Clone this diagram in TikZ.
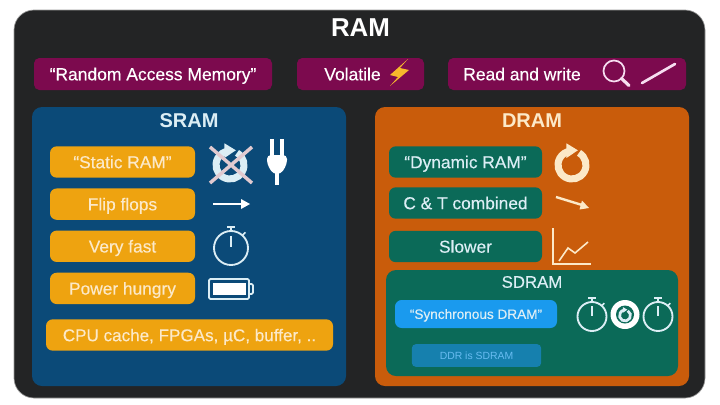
\documentclass[tikz,border=0pt]{standalone}
\usepackage{fontspec}
\setmainfont{Liberation Sans}
\newfontfamily\medfont[FakeBold=0.35]{Liberation Sans}
\usetikzlibrary{positioning}

\definecolor{shell}{HTML}{232425}
\definecolor{berry}{HTML}{7C0A4E}
\definecolor{navy}{HTML}{0B4A78}
\definecolor{rust}{HTML}{C95C0B}
\definecolor{amber}{HTML}{EEA310}
\definecolor{teal}{HTML}{0B6A58}
\definecolor{sky}{HTML}{1A9AEE}
\definecolor{dimsky}{HTML}{1680AE}
\definecolor{ice}{HTML}{DCEEF5}
\definecolor{cream}{HTML}{FCE9C8}
\definecolor{blush}{HTML}{F6DDF0}
\definecolor{spark}{HTML}{F6B92C}

\tikzset{
  refresh/.pic={
    \draw[line width=#1*0.375pt] (-60:#1) arc (-60:262:#1);
    \fill (-0.4*#1,-1.55*#1) -- (-0.4*#1,-0.5*#1) -- (0.42*#1,-1.05*#1) -- cycle;
  },
  watch/.pic={
    \draw[line width=1.4pt] (0,0) circle (#1);
    \draw[line width=1.2pt] (0,-#1*0.72) -- (0,-#1*0.05);
    \draw[line width=1.2pt] (0,-#1) -- (0,-#1-3);
    \draw[line width=1.5pt] (-4,-#1-4) -- (4,-#1-4);
    \draw[line width=1.2pt] (0.68*#1,-0.75*#1) -- (0.85*#1,-0.92*#1);
  }
}

\begin{document}
\begin{tikzpicture}[x=0.75pt, y=-0.75pt]
  \tikzstyle{panel}=[rounded corners = 7.5pt, inner sep = 0pt]
  \tikzstyle{bar}=[rectangle, fill = berry, rounded corners = 4pt, minimum height = 24pt, text height = 9.4pt, text depth = 0pt, text = white, font = \medfont\fontsize{13.1}{15}\selectfont]
  \tikzstyle{srambox}=[rectangle, fill = amber, rounded corners = 5pt, minimum width = 108.75pt, minimum height = 23.5pt, text height = 9.3pt, text depth = 0pt, text = cream, font = \medfont\fontsize{13}{15}\selectfont, node distance = 31.6pt]
  \tikzstyle{drambox}=[rectangle, fill = teal, rounded corners = 5pt, minimum width = 114.75pt, minimum height = 23.5pt, text height = 9.3pt, text depth = 0pt, text = ice, font = \medfont\fontsize{13}{15}\selectfont]
  \tikzstyle{title}=[font = \bfseries\fontsize{15}{17}\selectfont]

  \useasboundingbox (0,0) rectangle (720,404);
  \filldraw[fill = shell, draw = black!40, line width = 0.5pt, rounded corners = 15pt] (14,10) rectangle (705,398);

  \node[text = white, font = \bfseries\fontsize{19.4}{21}\selectfont] (ram) at (360.5,28) {RAM};

  \node[bar, minimum width = 178.5pt] (random) at (153,74) {“Random Access Memory”};
  \node[bar, minimum width = 95.25pt] (volatile) at (360.5,74) {Volatile\rule{12pt}{0pt}};
  \node[bar, minimum width = 178.5pt] (rw) at (567,74) {Read and write\rule{67.5pt}{0pt}};

  % lightning, lens and pen in the top bars
  \fill[spark] (408,59) -- (390,75) -- (398,77) -- (390,86) -- (409,70) -- (400,68) -- cycle;
  \draw[blush, line width = 1.3pt] (614,71) circle (10.5);
  \draw[blush, line width = 2.4pt, line cap = round] (621.5,78.5) -- (629,85.5);
  \draw[blush, line width = 2pt, line cap = round] (642,83) -- (675,64);

  % SRAM
  \fill[navy, panel] (32,107) rectangle (346,386);
  \node[title, text = ice] (sram) at (189,121) {SRAM};
  \node[srambox] (static) at (122.5,162) {“Static RAM”};
  \node[srambox] (flip) [below of = static] {Flip flops};
  \node[srambox] (fast) [below of = flip] {Very fast};
  \node[srambox] (hungry) [below of = fast] {Power hungry};
  \node[srambox, minimum width = 215.25pt, font = \medfont\fontsize{12.8}{15}\selectfont] (uses) at (189.5,335) {CPU cache, FPGAs, µC, buffer, ..};

  \pic[ice] at (230,165) {refresh=14};
  \draw[ice!85!red, line width = 2.6pt] (210,147) -- (252,183) (252,147) -- (210,183);
  % plug
  \fill[white, rounded corners = 3pt] (267,155) -- (287,155) -- (287,164) -- (281,174) -- (273,174) -- (267,164) -- cycle;
  \draw[white, line width = 3pt] (272,139) -- (272,157) (282,139) -- (282,157);
  \draw[white, line width = 3pt] (277,172) -- (277,185);

  \draw[white, line width = 1.8pt] (213,204) -- (243,204);
  \fill[white] (241,199) -- (250,204) -- (241,209) -- cycle;

  \pic[ice] at (231,248) {watch=17};

  % battery
  \draw[ice, line width = 1.3pt, rounded corners = 1pt] (209,279) rectangle (249,299);
  \fill[white] (213,283) rectangle (246,295);
  \draw[ice, line width = 1.3pt, rounded corners = 1pt] (249,284) -- (253,284) -- (253,294) -- (249,294);

  % DRAM
  \fill[rust, panel] (375,107) rectangle (689,386);
  \node[title, text = cream] (dram) at (532,121) {DRAM};
  \node[drambox] (dynamic) at (465.5,162) {“Dynamic RAM”};
  \node[drambox, node distance = 30.75pt] (ct) [below of = dynamic] {C \& T combined};
  \node[drambox] (slower) at (465.5,246.5) {Slower};

  \pic[cream] at (572,165) {refresh=14};

  \draw[cream, line width = 1.8pt] (556,197) -- (582,205);
  \fill[cream] (589,208) -- (579.5,209.5) -- (582,200.5) -- cycle;

  % chart
  \draw[cream, line width = 1.5pt] (553,228) -- (553,264) -- (591,264);
  \draw[cream, line width = 1.2pt] (559,261) -- (568,248) -- (575,253) -- (588,242);

  % SDRAM
  \fill[teal, panel] (386,270) rectangle (678,376);
  \node[text = ice, font = \medfont\fontsize{12.6}{15}\selectfont] (sdram) at (532,282) {SDRAM};
  \node[rectangle, fill = sky, rounded corners = 5pt, minimum width = 121.5pt, minimum height = 21pt, text height = 7.3pt, text depth = 0pt, text = ice, font = \medfont\fontsize{10.2}{12}\selectfont] (sync) at (476,314) {“Synchronous DRAM”};
  \node[rectangle, fill = dimsky, rounded corners = 3pt, minimum width = 97pt, minimum height = 17pt, text height = 5.6pt, text depth = 0pt, text = sky!60!ice, font = \fontsize{7.8}{9}\selectfont] (ddr) at (476.5,355.5) {DDR is SDRAM};

  \foreach \px in {592, 658}
    \pic[ice] at (\px,316.5) {watch=14.5};
  \fill[white] (625,314.5) circle (14.5);
  \fill[teal] (625,314.5) circle (9);
  \pic[ice] at (625,315.5) {refresh=5.5};

\end{tikzpicture}
\end{document}
